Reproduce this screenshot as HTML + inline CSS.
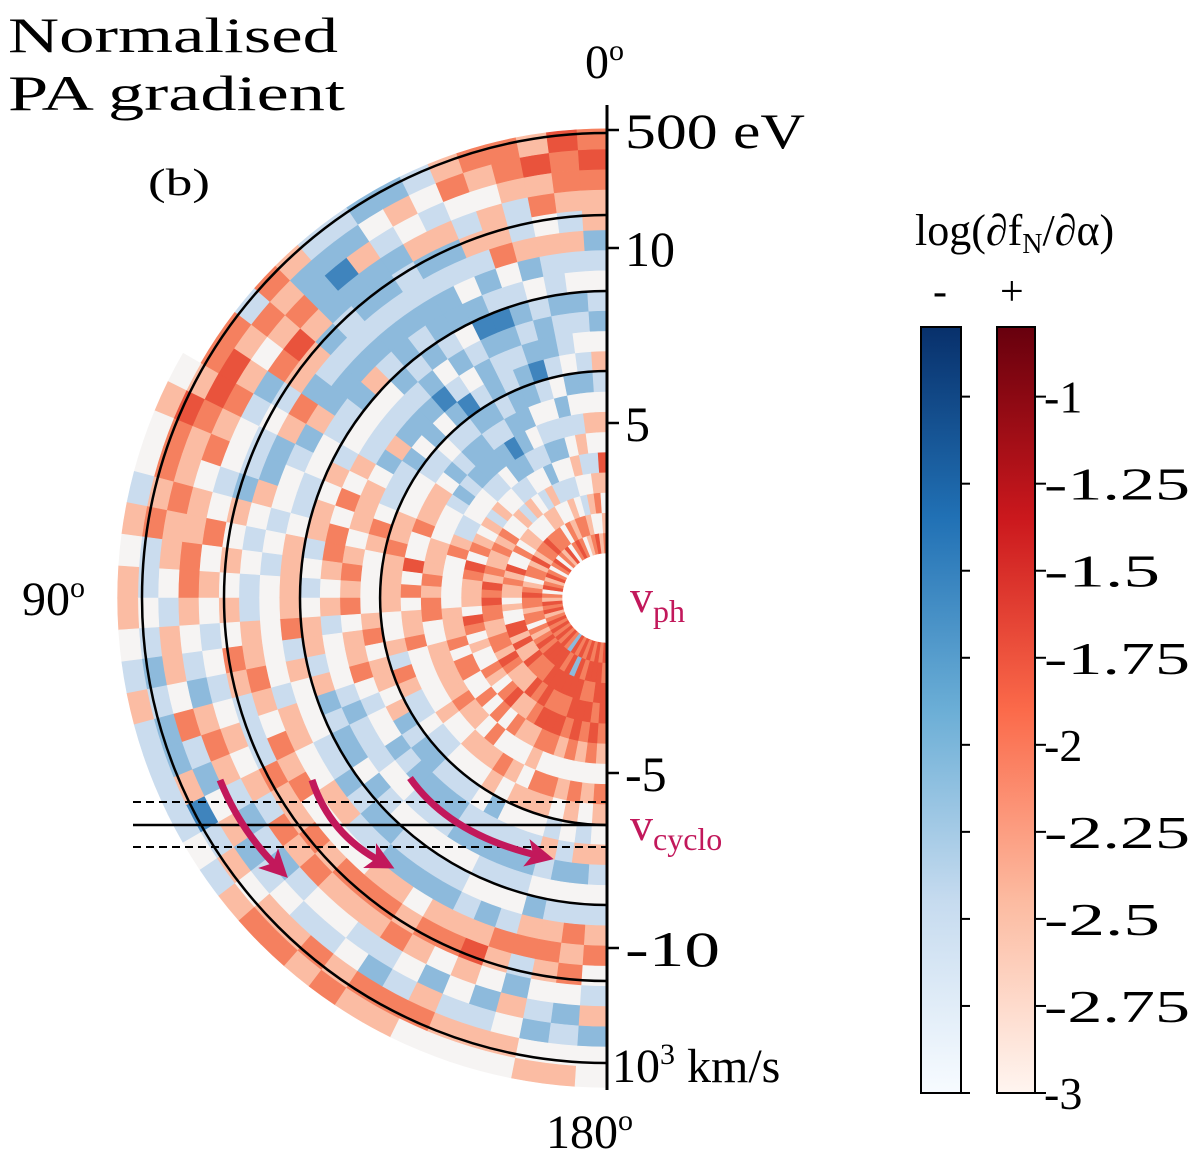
<!DOCTYPE html>
<html><head><meta charset="utf-8"><style>
body{margin:0;background:#fff;}
svg text{font-family:"Liberation Serif",serif;}
</style></head><body>
<svg width="1200" height="1155" viewBox="0 0 1200 1155">
<defs>
<linearGradient id="gblue" x1="0" y1="1" x2="0" y2="0">
<stop offset="0" stop-color="#f7fbff"/><stop offset="0.25" stop-color="#c6dbef"/><stop offset="0.5" stop-color="#6baed6"/><stop offset="0.75" stop-color="#2171b5"/><stop offset="1" stop-color="#08306b"/></linearGradient>
<linearGradient id="gred" x1="0" y1="1" x2="0" y2="0">
<stop offset="0" stop-color="#fff5f0"/><stop offset="0.25" stop-color="#fcbba1"/><stop offset="0.5" stop-color="#fb6a4a"/><stop offset="0.75" stop-color="#cb181d"/><stop offset="1" stop-color="#67000d"/></linearGradient>
<marker id="ah" markerWidth="4" markerHeight="4" refX="2" refY="2" orient="auto" markerUnits="strokeWidth"><path d="M0,0 L4,2 L0,4 L1,2 Z" fill="#c2185b"/></marker>
</defs>
<g id="cells"></g>
<g id="overlay"></g>
<text x="8" y="52" font-size="50" textLength="330" lengthAdjust="spacingAndGlyphs">Normalised</text>
<text x="8" y="110" font-size="50" textLength="337" lengthAdjust="spacingAndGlyphs">PA gradient</text>
<text x="148" y="195" font-size="38" textLength="62" lengthAdjust="spacingAndGlyphs">(b)</text>
<text x="585" y="78" font-size="48">0<tspan font-size="30" dy="-18">o</tspan></text>
<text x="22" y="615" font-size="48">90<tspan font-size="30" dy="-18">o</tspan></text>
<text x="546" y="1148" font-size="48">180<tspan font-size="30" dy="-18">o</tspan></text>
<text x="630" y="612" font-size="46" fill="#c2185b">v<tspan font-size="32" dy="10">ph</tspan></text>
<text x="630" y="840" font-size="46" fill="#c2185b">v<tspan font-size="32" dy="10">cyclo</tspan></text>
<text x="915" y="245" font-size="44">log(∂f<tspan font-size="28" dy="8">N</tspan><tspan dy="-8">/∂α)</tspan></text>
<text x="933" y="305" font-size="42">-</text>
<text x="1000" y="305" font-size="42">+</text>
<rect x="921" y="327" width="40" height="766" fill="url(#gblue)" stroke="#000" stroke-width="2"/>
<rect x="997" y="327" width="38" height="766" fill="url(#gred)" stroke="#000" stroke-width="2"/>
<g id="cbticks"></g>
</svg>
<script>
const cx=607, cy=598, r0=45, dr=20.2;
const nAng=48;
const colorKeys=['B','b','l','.','p','r','R'];
const colorVals=['#3f84bd','#8dbadc','#cadcee','#f6f4f3','#fbbca3','#f5805f','#e9533c'];
const rows=[
"rp.pR.p.lp.bl.lbpprRr_","p.rpl.p.bl.lb.lplprrR_","R.p.lpl.b.llbllp.rpRp_","rpl.p.lb.lbbl.bpllprr_",
"pr.l.bl.lBblbl.rpp.pr_",".rpl.bl.bblbBlblpl.rp_","rp.lbl.bbllbBb.lbpl.l_","Rr.p.lbblbbl.bblbp.pb_",
"r.pl.bBlbl.blbbllbl.b_",".rp.lbblbBl.blblbbpbl_","Rr.pl.bblbBblbblbbBbl_","pr.l.lbbl.blblbllbbbp_",
"rR.p.lbl.bbl.pblbprpr_",".rp.p.lbl.bl.bblpRprl_","Rrp.l.b.lbpl.lbbpr.pr_","rp.rp.lp.lbl.lprlbpRr_",
".Rrp.l.p.l.pl.bp.lrRp.","rp.rpl.p.lp.p.lbl.prRp","Rr.prp.rp.pr.l.bl.rpr.","prRp.rp.prp.pl.pbl.pr.",
"r.prR.p.rp.rp.l.p.prpl","Rprpr.pRp.prlp.l.rpprp",".rpRp.r.p.rp.pl.p.rpl.","rRprp.prp.p.lp.l.pr.lp",
"pr.Rp.r.p.rp.p.lp.pl.p","Rrpr.prp.p.lpr.p.l.pl.","rp.rRp.p.rp.pl.pr.lpbl","Rr.prp.rp.p.lp.rplb.lp",
"prRp.rp.lpr.p.lpl.prbl","r.Rrp.p.rp.lb.p.lprlbl","Rrpr.rp.p.lbl.prl.pbpl","rpRp.rp.lp.lbl.prpl.Bl",
"RrpRr.p.lb.lbl.rplbpl.","rRprp.rp.lbl.bp.prlbpl","RrRp.rp.lbl.blp.rpbl.p","rRrpr.p.lbb.lbl.prl.pr",
"RRrpRr.p.lbl.bl.rp.lpr","rRrRp.rp.lbl.lbprp.lrp","bRRrpr.p.lbl.lbprpl.pr","RrRRrp.rp.lb.lb.prlbrp",
"rRRrRp.p.blb.lbprp.lrp","RbRrRrp.p.lbl.lpr.bpr.","rRRrRr.rp.lbl.bpRp.lp.","RrRRrp.rp.lbl.lrp.blp.",
"rRrRRr.p.lpl.bprlbp.p.","RRrRrp.rp.lb.lprp.lb.p","rRRrRr.p.lpb.lrpr.bl.p","RrRRrp.rp.pl.lpr.lpb.."
];
const ringRadii=[227,307,383,465];
const yTickVals=[10,5,-5,-10];
const yTickLabels=["10","5","-5","-10"];
const cbTickVals=[-1,-1.25,-1.5,-1.75,-2,-2.25,-2.5,-2.75,-3];
const cbTickLabels=["-1","-1.25","-1.5","-1.75","-2","-2.25","-2.5","-2.75","-3"];
const NS='http://www.w3.org/2000/svg';
function vy(v){return cy-v*35;}
function cbY(v){return 327+(-0.8-v)/2.2*766;}
function pt(r,th){const a=th*Math.PI/180;return [cx-r*Math.sin(a),cy-r*Math.cos(a)];}
function mk(tag,attrs,parent){const e=document.createElementNS(NS,tag);for(const k in attrs)e.setAttribute(k,attrs[k]);parent.appendChild(e);return e;}
const cells=document.getElementById('cells');
rows.forEach((row,i)=>{
  const t0=i*180/nAng,t1=(i+1)*180/nAng;
  for(let j=0;j<row.length;j++){
    const ci=colorKeys.indexOf(row[j]); if(ci<0)continue;
    const ra=r0+j*dr, rb=ra+dr;
    const [x1,y1]=pt(ra,t0),[x2,y2]=pt(rb,t0),[x3,y3]=pt(rb,t1),[x4,y4]=pt(ra,t1);
    const p=mk('path',{d:`M${x1},${y1}L${x2},${y2}A${rb},${rb} 0 0 0 ${x3},${y3}L${x4},${y4}A${ra},${ra} 0 0 1 ${x1},${y1}Z`,fill:colorVals[ci],stroke:colorVals[ci],'stroke-width':0.6},cells);
    
    
  }
});
const ov=document.getElementById('overlay');
ringRadii.forEach(r=>{
  const c=mk('path',{d:`M${cx},${cy-r}A${r},${r} 0 0 0 ${cx},${cy+r}`,fill:'none',stroke:'#000','stroke-width':2.5},ov);
  
  
});
let l=mk('line',{x1:133,y1:825,x2:607,y2:825,stroke:'#000','stroke-width':2.5},ov);


[802,847].forEach(y=>{
  const d=mk('line',{x1:133,y1:y,x2:607,y2:y,stroke:'#000','stroke-width':2,'stroke-dasharray':'8,5'},ov);
  
  
});
[["M220,780 Q240,830 278,868"],["M312,780 Q330,835 382,862"],["M410,778 Q450,835 540,856"]].forEach(a=>{
  const p=mk('path',{d:a[0],fill:'none',stroke:'#c2185b','stroke-width':7,'marker-end':'url(#ah)'},ov);
  
  
});
const ax=mk('line',{x1:cx,y1:105,x2:cx,y2:1090,stroke:'#000','stroke-width':3},ov);


let tk=mk('line',{x1:cx,y1:130,x2:cx+12,y2:130,stroke:'#000','stroke-width':2.5},ov);


let tl=mk('text',{x:625,y:148,'font-size':50,textLength:180,lengthAdjust:'spacingAndGlyphs'},ov);tl.textContent='500 eV';


yTickVals.forEach((v,i)=>{
  const y=vy(v);
  const t=mk('line',{x1:cx,y1:y,x2:cx+12,y2:y,stroke:'#000','stroke-width':2.5},ov);
  
  
  const tx=mk('text',{x:625,y:y+18,'font-size':50},ov);tx.textContent=yTickLabels[i];
  if(yTickLabels[i].length>=3){tx.setAttribute('textLength',95);tx.setAttribute('lengthAdjust','spacingAndGlyphs');}
  
  
});
let ul=mk('text',{x:612,y:1082,'font-size':48},ov);
ul.innerHTML='10<tspan font-size="30" dy="-18">3</tspan><tspan dy="18"> km/s</tspan>';


const cb=document.getElementById('cbticks');
cbTickVals.forEach((v,i)=>{
  const y=cbY(v);
  [[961,970],[1035,1046]].forEach(s=>{
    const t=mk('line',{x1:s[0],y1:y,x2:s[1],y2:y,stroke:'#000','stroke-width':2},cb);
    
    
  });
  const tx=mk('text',{x:1044,y:y+16,'font-size':46},cb);tx.textContent=cbTickLabels[i];
  const n=cbTickLabels[i].length;
  if(n>=4){tx.setAttribute('textLength',n===5?146:116);tx.setAttribute('lengthAdjust','spacingAndGlyphs');}
  
  
});
</script>
</body></html>
